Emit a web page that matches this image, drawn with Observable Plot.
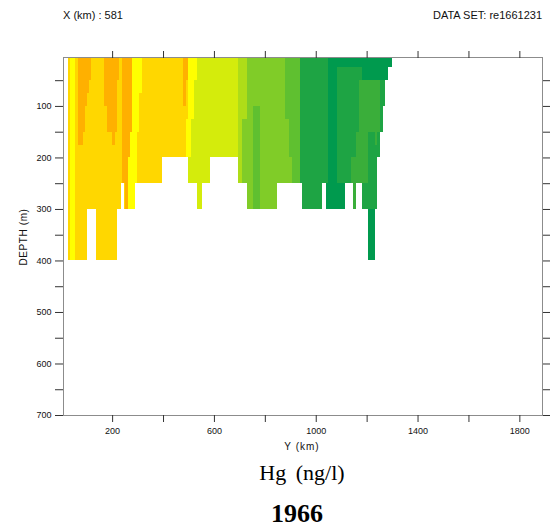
<!DOCTYPE html>
<html>
<head>
<meta charset="utf-8">
<script src="https://cdn.jsdelivr.net/npm/d3@7"></script>
<script src="https://cdn.jsdelivr.net/npm/@observablehq/plot@0.6"></script>
<style>
  html, body { margin: 0; padding: 0; background: #fff; }
  #wrap { position: relative; width: 550px; height: 529px; overflow: hidden; }
  #chart { position: absolute; left: 0; top: 0; }
  #labels { position: absolute; left: 0; top: 0; pointer-events: none; }
</style>
</head>
<body>
<div id="wrap"><div id="chart"></div></div>
<script>
// ---- data ----
// depth layer boundaries (m)
const depthLevels = [5, 25, 50, 75, 100, 125, 150, 175, 200, 225, 250, 275, 300, 350, 400];
// section column boundaries along Y (km)
const colEdges = [26, 34, 56, 67, 75, 87, 95, 103, 110, 116, 137, 168, 178, 192, 200, 212, 220, 226, 234,
  240, 247, 252, 264, 270, 277, 290, 296, 305, 316, 397, 467, 480, 490, 499, 510, 520, 532, 552, 585, 696,
  710, 729, 742, 755, 780, 849, 880, 893, 905, 938, 945, 1000, 1023, 1040, 1050, 1082, 1115, 1140, 1148,
  1157, 1170, 1181, 1207, 1233, 1240, 1253, 1266, 1274, 1285, 1298];
// Hg class per column, one digit per depth layer ("." = no data)
const hgClass = [
  "88888888888888", "77777777777777", "88888888888888", "99999998888888", "99999998888888",
  "99999988888888", "99998888888888", "999888888888..", "998888888888..", "888888888888..",
  "88888888888888", "99998888888888", "99999988888888", "99999988888888", "99999998888888",
  "99999988888888", "998888888888..", "888888888888..", "8888888888....", "9999999999....",
  "999999999988..", "999999999999..", "999999997777..", "999999777777..", "777777777777..",
  "7777777777....", "7777778888....", "7778888888....", "8888888888....", "88888888......",
  "88888888......", "99998888......", "99888777......", "7777777766....", "7777766666....",
  "7766666666....", "666666666666..", "6666666666....", "66666666......", "5555555555....",
  "5555544444....", "444444444444..", "444444444444..", "444433333333..", "444444444444..",
  "4444444444....", "3333344444....", "3333333344....", "3333333333....", "1111111111....",
  "111111111111..", "111111111111..", "1111111111....", "111111111100..", "000000000000..",
  "011111111100..", "0111111111....", "0111111122....", "011111112222..", "0111112222....",
  "0122222222....", "002222222211..", "00222211111100", "002222211111..", "00222211......",
  "001111........", "0011..........", "00............", "0............."
];
const classIds = [0, 1, 2, 3, 4, 5, 6, 7, 8, 9];
const classColors = ["#009a4e", "#1ea444", "#3aae3a", "#5fc030", "#80cc28", "#aedd18",
  "#d4ec0c", "#ffff00", "#ffd700", "#ffb000"];
const xTicks = [200, 400, 600, 800, 1000, 1200, 1400, 1600, 1800];
const xTickLabels = [200, 600, 1000, 1400, 1800];
const yTicks = [50, 100, 150, 200, 250, 300, 350, 400, 450, 500, 550, 600, 650, 700];
const yTickLabels = [100, 200, 300, 400, 500, 600, 700];

// ---- build cells ----
const cells = [];
hgClass.forEach((code, i) => {
  if (i + 1 >= colEdges.length) return;
  [...code].forEach((ch, j) => {
    if (ch === "." || j + 1 >= depthLevels.length) return;
    cells.push({x1: colEdges[i], x2: colEdges[i + 1], y1: depthLevels[j], y2: depthLevels[j + 1], hg: +ch});
  });
});

const font = "'Liberation Sans', Arial, sans-serif";
const chart = Plot.plot({
  width: 550,
  height: 455,
  marginTop: 57,
  marginBottom: 40,
  marginLeft: 63,
  marginRight: 8,
  style: {fontFamily: font, fontSize: "9px", background: "white", color: "#111"},
  x: {domain: [7, 1889]},
  y: {domain: [5, 700], reverse: true},
  color: {type: "ordinal", domain: classIds, range: classColors},
  marks: [
    Plot.rect(cells, {x1: "x1", x2: "x2", y1: "y1", y2: "y2", fill: "hg", shapeRendering: "crispEdges"}),
    Plot.frame({stroke: "#8c8c8c"}),
    Plot.axisX({anchor: "bottom", ticks: xTicks, tickSize: 7, tickPadding: 5, label: null,
      tickFormat: d => xTickLabels.includes(d) ? String(d) : "", stroke: "#333", fill: "#111", fontSize: 9}),
    Plot.axisX({anchor: "top", ticks: xTicks, tickSize: 7, label: null, tickFormat: () => "", stroke: "#333"}),
    Plot.axisY({anchor: "left", ticks: yTicks, tickSize: 8, tickPadding: 4, label: null,
      tickFormat: d => yTickLabels.includes(d) ? String(d) : "", stroke: "#333", fill: "#111", fontSize: 9}),
    Plot.axisY({anchor: "right", ticks: yTicks, tickSize: 8, label: null, tickFormat: () => "", stroke: "#333"})
  ]
});
document.getElementById("chart").appendChild(chart);

// ---- titles and axis labels ----
const svg = d3.select("#wrap").append("svg")
  .attr("id", "labels").attr("width", 550).attr("height", 529);
const sans = svg.append("g").attr("font-family", font).attr("fill", "#111");
sans.append("text").attr("x", 63).attr("y", 19).attr("font-size", 11).text("X (km) : 581");
sans.append("text").attr("x", 542).attr("y", 19).attr("font-size", 11).attr("text-anchor", "end")
  .text("DATA SET: re1661231");
sans.append("text").attr("x", 302).attr("y", 450).attr("font-size", 10).attr("letter-spacing", 1)
  .attr("text-anchor", "middle").text("Y (km)");
sans.append("text").attr("transform", "translate(27,237) rotate(-90)").attr("font-size", 10)
  .attr("letter-spacing", 0.6).attr("text-anchor", "middle").text("DEPTH (m)");
const serif = svg.append("g").attr("font-family", "'Liberation Serif', 'Times New Roman', serif").attr("fill", "#000");
serif.append("text").attr("x", 302).attr("y", 480).attr("font-size", 22).attr("word-spacing", 4)
  .attr("text-anchor", "middle").text("Hg (ng/l)");
serif.append("text").attr("x", 297).attr("y", 522).attr("font-size", 26).attr("font-weight", "bold")
  .attr("text-anchor", "middle").text("1966");
</script>
</body>
</html>
